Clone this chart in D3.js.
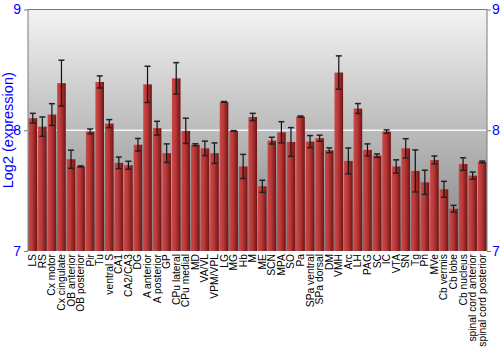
<!DOCTYPE html>
<html lang="en">
<head>
<meta charset="utf-8" />
<title>Log2 expression by region</title>
<script src="https://cdn.jsdelivr.net/npm/d3@7"></script>
<style>
  body { margin:0; background:#fff; font-family:"Liberation Sans", Arial, sans-serif; }
  svg text { font-family:"Liberation Sans", Arial, sans-serif; }
</style>
</head>
<body>
<div id="chart"></div>
<script>
// --- data ------------------------------------------------------------------
const regions = ["LS","RS","Cx motor","Cx cingulate","OB anterior","OB posterior","Pir","Tu",
  "ventral S","CA1","CA2/CA3","DG","A anterior","A posterior","GP","CPu lateral","CPu medial",
  "MD","VA/VL","VPM/VPL","LG","MG","Hb","M","ME","SCN","MPA","SO","Pa","SPa ventral",
  "SPa dorsal","DM","VMH","Arc","LH","PAG","SC","IC","VTA","SN","Tg","Pn","MVe",
  "Cb vermis","Cb lobe","Cb nucleus","spinal cord anterior","spinal cord posterior"];
const expression = [8.10,8.03,8.13,8.39,7.76,7.70,7.99,8.40,
  8.055,7.73,7.71,7.88,8.38,8.017,7.81,8.43,7.995,
  7.88,7.85,7.81,8.235,7.995,7.70,8.11,7.536,7.914,7.983,7.903,8.113,7.906,
  7.934,7.834,8.478,7.746,8.18,7.837,7.79,7.989,7.70,7.85,7.663,7.569,7.754,
  7.511,7.35,7.72,7.624,7.738];
const errors = [0.04,0.08,0.09,0.19,0.075,0.005,0.02,0.05,
  0.033,0.048,0.033,0.052,0.15,0.057,0.077,0.13,0.105,
  0.008,0.06,0.085,0.003,0.002,0.10,0.03,0.05,0.028,0.088,0.119,0.005,0.05,
  0.025,0.02,0.138,0.107,0.041,0.05,0.014,0.014,0.055,0.08,0.174,0.10,0.033,
  0.066,0.028,0.052,0.03,0.007];
const yTicks = [7, 8, 9];

// --- layout ----------------------------------------------------------------
const W = 500, H = 350;
const margin = {top:9.5, right:13, bottom:99, left:28};
const innerW = W - margin.left - margin.right;
const innerH = H - margin.top - margin.bottom;

const svg = d3.select("#chart").append("svg").attr("width", W).attr("height", H);
const defs = svg.append("defs");

const bg = defs.append("linearGradient").attr("id","bgGrad")
  .attr("x1",0).attr("y1",0).attr("x2",0).attr("y2",1);
bg.append("stop").attr("offset","0%").attr("stop-color","#f3f3f3");
bg.append("stop").attr("offset","100%").attr("stop-color","#838383");

const barG = defs.append("linearGradient").attr("id","barGrad")
  .attr("x1",0).attr("y1",0).attr("x2",1).attr("y2",0);
barG.append("stop").attr("offset","0%").attr("stop-color","#c94a4a");
barG.append("stop").attr("offset","45%").attr("stop-color","#b83636");
barG.append("stop").attr("offset","100%").attr("stop-color","#6e1414");

const g = svg.append("g").attr("transform", `translate(${margin.left},${margin.top})`);

const x = d3.scaleBand().domain(regions).range([0, innerW]).paddingInner(0.1).paddingOuter(0.05);
const y = d3.scaleLinear().domain([7, 9]).range([innerH, 0]);

g.append("rect").attr("width", innerW).attr("height", innerH).attr("fill","url(#bgGrad)");

// reference line at 8
g.append("line").attr("x1",0).attr("x2",innerW)
  .attr("y1",y(8)).attr("y2",y(8))
  .attr("stroke","#f4f4f4").attr("stroke-width",1.5);

// bars
g.selectAll("rect.bar").data(regions).join("rect")
  .attr("class","bar")
  .attr("x", d => x(d))
  .attr("width", x.bandwidth())
  .attr("y", (d,i) => y(expression[i]))
  .attr("height", (d,i) => innerH - y(expression[i]))
  .attr("fill","url(#barGrad)");

// error bars
const eb = g.selectAll("g.err").data(regions).join("g").attr("class","err");
const cx = d => x(d) + x.bandwidth()/2;
eb.append("line")
  .attr("x1", cx).attr("x2", cx)
  .attr("y1", (d,i) => y(expression[i] + errors[i]))
  .attr("y2", (d,i) => y(expression[i] - errors[i]))
  .attr("stroke","#111").attr("stroke-width",1.2);
[1,-1].forEach(s => {
  eb.append("line")
    .attr("x1", d => cx(d) - 3).attr("x2", d => cx(d) + 3)
    .attr("y1", (d,i) => y(expression[i] + s*errors[i]))
    .attr("y2", (d,i) => y(expression[i] + s*errors[i]))
    .attr("stroke","#222").attr("stroke-width",1.5);
});

// frame: left, top, right
g.append("path")
  .attr("d", `M0,${innerH}V0H${innerW}V${innerH}`)
  .attr("fill","none").attr("stroke","#7a7a7a").attr("stroke-width",1);

// axes
const yAxisL = d3.axisLeft(y).tickValues(yTicks).tickSize(4).tickPadding(3).tickFormat(d3.format("d"));
const yAxisR = d3.axisRight(y).tickValues(yTicks).tickSize(4).tickPadding(1).tickFormat(d3.format("d"));
[g.append("g").call(yAxisL), g.append("g").attr("transform",`translate(${innerW},0)`).call(yAxisR)]
  .forEach(a => {
    a.select(".domain").remove();
    a.selectAll(".tick line").attr("stroke","#7a7a7a");
    a.selectAll(".tick text").attr("fill","#0000ff").style("font-size","14px");
  });

// x labels
g.append("g").selectAll("text").data(regions).join("text")
  .attr("transform", d => `translate(${x(d) + x.bandwidth()/2 + 3.5},${innerH + 3}) rotate(-90)`)
  .attr("text-anchor","end")
  .style("font-size","10.3px")
  .attr("fill","#000")
  .text(d => d);

// y title
svg.append("text")
  .attr("transform", `translate(13,${margin.top + innerH/2}) rotate(-90)`)
  .attr("text-anchor","middle")
  .attr("fill","#0000ff")
  .style("font-size","14.5px")
  .text("Log2 (expression)");
</script>
</body>
</html>
